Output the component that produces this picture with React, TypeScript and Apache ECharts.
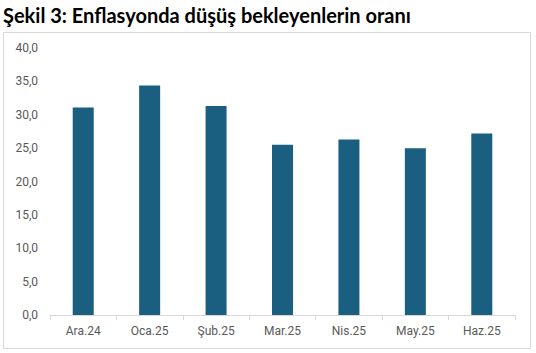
import React, { useEffect, useRef } from "react";
import * as echarts from "echarts";

const categories = ["Ara.24", "Oca.25", "Şub.25", "Mar.25", "Nis.25", "May.25", "Haz.25"];
const values = [31.1, 34.4, 31.3, 25.5, 26.3, 25.0, 27.2];
const titleText = "Şekil 3: Enflasyonda düşüş bekleyenlerin oranı";

export default function App() {
  const ref = useRef<HTMLDivElement>(null);
  useEffect(() => {
    document.body.style.margin = "0";
    const chart = echarts.init(ref.current!, null, { renderer: "svg" });
    chart.setOption({
      animation: false,
      backgroundColor: "#ffffff",
      title: {
        text: titleText,
        left: 3,
        top: 5,
        padding: 0,
        textStyle: { fontFamily: "Lato", fontWeight: "bold", fontSize: 20, color: "#000000" },
      },
      graphic: [
        {
          type: "rect",
          shape: { x: 3.5, y: 32.5, width: 527, height: 316 },
          style: { fill: "none", stroke: "#d9d9d9", lineWidth: 1 },
          silent: true,
        },
      ],
      grid: { left: 50, right: 21, top: 48, bottom: 38 },
      xAxis: {
        type: "category",
        data: categories,
        axisLine: { lineStyle: { color: "#d9d9d9" } },
        axisTick: { show: true, length: 5, lineStyle: { color: "#d9d9d9" } },
        axisLabel: { color: "#595959", fontSize: 12, fontFamily: "Roboto", margin: 10 },
      },
      yAxis: {
        type: "value",
        min: 0,
        max: 40,
        interval: 5,
        axisLine: { show: false },
        axisTick: { show: false },
        splitLine: { show: false },
        axisLabel: {
          color: "#595959",
          fontSize: 12,
          fontFamily: "Roboto",
          margin: 12,
          formatter: (v: number) => v.toFixed(1).replace(".", ","),
        },
      },
      series: [
        {
          type: "bar",
          data: values,
          barWidth: 21,
          itemStyle: { color: "#1a5e80" },
        },
      ],
    });
    return () => chart.dispose();
  }, []);
  return <div ref={ref} style={{ width: 536, height: 353 }} />;
}
